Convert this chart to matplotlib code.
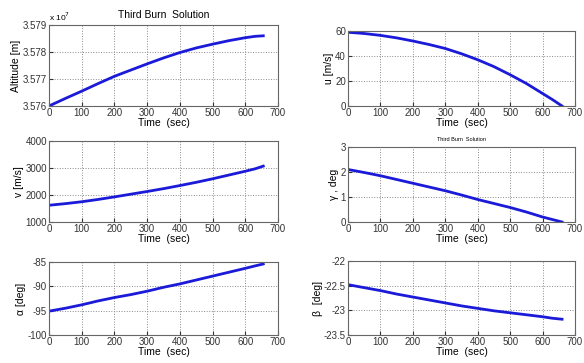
import numpy as np
import matplotlib.pyplot as plt
from matplotlib.ticker import FuncFormatter

plt.rcParams['font.family'] = ['Liberation Sans', 'DejaVu Sans']
plt.rcParams['axes.unicode_minus'] = False

# values
t = [0, 50, 100, 150, 200, 250, 300, 350, 400, 450, 500, 550, 600, 630, 655]
altitude = [3.5760e7, 3.57628e7, 3.57655e7, 3.57683e7, 3.5771e7, 3.57733e7, 3.57756e7,
            3.57778e7, 3.57798e7, 3.57815e7, 3.57829e7, 3.57842e7, 3.57853e7,
            3.57858e7, 3.57860e7]
v = [1620, 1680, 1750, 1835, 1930, 2030, 2130, 2235, 2350, 2470, 2600, 2740, 2880, 2970, 3070]
alpha = [-95.1, -94.5, -93.8, -93.0, -92.3, -91.7, -91.0, -90.2, -89.5, -88.7, -87.9,
         -87.1, -86.3, -85.8, -85.4]

t2 = [0, 50, 100, 150, 200, 250, 300, 350, 400, 450, 500, 550, 600, 630, 660]
u = [59, 58, 56.5, 54.5, 52, 49.2, 46, 41.8, 37, 31.5, 25, 18, 10, 5.2, 0]
gamma = [2.1, 1.98, 1.85, 1.7, 1.55, 1.4, 1.25, 1.08, 0.9, 0.74, 0.58, 0.4, 0.2, 0.1, 0]
beta = [-22.48, -22.54, -22.6, -22.67, -22.73, -22.79, -22.85, -22.91, -22.96, -23.01,
        -23.05, -23.09, -23.13, -23.16, -23.18]

xticks = [0, 100, 200, 300, 400, 500, 600, 700]

fig = plt.figure(figsize=(5.84, 3.63), dpi=100)
W, H = 584, 363


def make_ax(x0, y0, x1, y1):
    return fig.add_axes([x0 / W, 1 - y1 / H, (x1 - x0) / W, (y1 - y0) / H])


def style(ax, x, y, ylabel, yticks, ylim):
    ax.plot(x, y, color='#1a1ad8', lw=2.0)
    ax.set_xlim(0, 700)
    ax.set_ylim(*ylim)
    ax.set_xticks(xticks)
    ax.set_yticks(yticks)
    ax.tick_params(direction='in', labelsize=7, length=3, pad=1.5, colors='#333333')
    ax.grid(True, linestyle=':', color='#8a8a8a', lw=0.7)
    ax.set_xlabel('Time  (sec)', fontsize=7.5, labelpad=0)
    ax.set_ylabel(ylabel, fontsize=7.5, labelpad=1)
    for s in ax.spines.values():
        s.set_color('#666666')
        s.set_linewidth(0.8)


ax1 = make_ax(49, 25, 278, 106)
style(ax1, t, altitude, 'Altitude [m]', [3.576e7, 3.577e7, 3.578e7, 3.579e7], (3.576e7, 3.579e7))
ax1.yaxis.set_major_formatter(FuncFormatter(lambda val, p: '%.3f' % (val / 1e7)))
ax1.text(0.0, 1.02, r'x 10$^7$', transform=ax1.transAxes, fontsize=6, va='bottom', ha='left')
ax1.set_title('Third Burn  Solution', fontsize=7.5, pad=5)

ax2 = make_ax(348, 31, 575, 106)
style(ax2, t2, u, 'u [m/s]', [0, 20, 40, 60], (0, 60))

ax3 = make_ax(49, 141, 278, 222)
style(ax3, t, v, 'v [m/s]', [1000, 2000, 3000, 4000], (1000, 4000))

ax4 = make_ax(348, 147, 575, 222)
style(ax4, t2, gamma, 'γ , deg', [0, 1, 2, 3], (0, 3))
ax4.set_title('Third Burn  Solution', fontsize=4, pad=4)

ax5 = make_ax(49, 262, 278, 335)
style(ax5, t, alpha, 'α [deg]', [-100, -95, -90, -85], (-100, -85))

ax6 = make_ax(348, 261, 575, 335)
style(ax6, t2, beta, 'β  [deg]', [-23.5, -23, -22.5, -22], (-23.5, -22))
ax6.yaxis.set_major_formatter(FuncFormatter(lambda val, p: '%g' % val))

fig.savefig('out.png', dpi=100)
